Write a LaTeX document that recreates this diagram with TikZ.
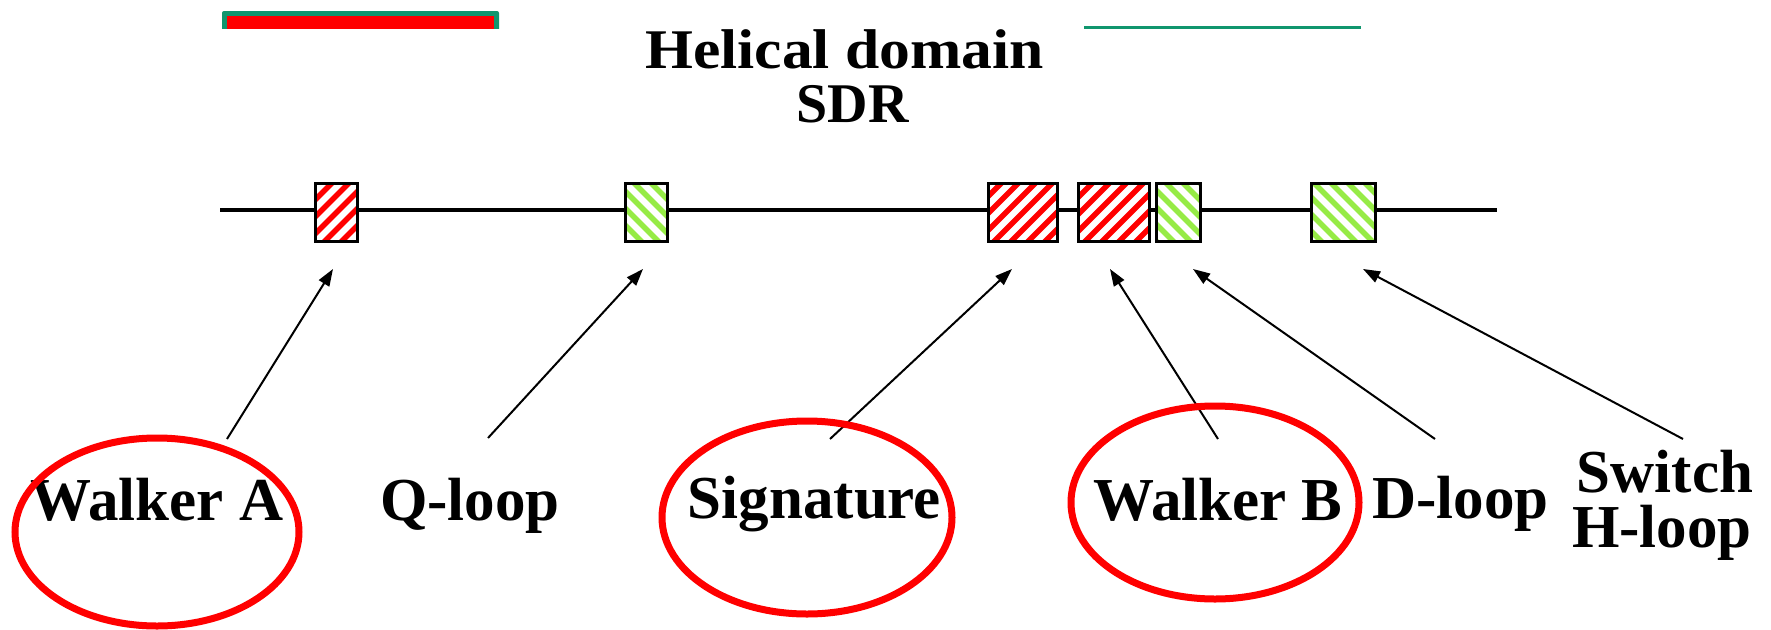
\documentclass[tikz,border=0pt]{standalone}
\usepackage{fontspec}
\setmainfont{Liberation Serif}
\usepackage{graphicx}
\usetikzlibrary{arrows.meta,shapes.geometric}
\definecolor{hred}{RGB}{255,0,0}
\definecolor{hgreen}{RGB}{150,235,70}
\definecolor{bargreen}{RGB}{16,150,110}
\tikzset{
  lbl/.style={font=\bfseries\fontsize{61}{55}\selectfont, anchor=base, inner sep=0pt},
  ttl/.style={font=\bfseries\fontsize{56}{54}\selectfont, anchor=base, inner sep=0pt},
  hatchbox/.style={draw=black, fill=white, line width=3pt, inner sep=0pt, minimum height=58pt},
  redhatch/.style={hatchbox, path picture={
      \foreach \i in {-8,...,8}{
        \draw[hred, line width=5.5pt] ([shift={(\i*17pt-60pt,-60pt)}]path picture bounding box.center) -- ++(120pt,120pt);}}},
  greenhatch/.style={hatchbox, path picture={
      \foreach \i in {-8,...,8}{
        \draw[hgreen, line width=5.5pt] ([shift={(\i*17pt-60pt,60pt)}]path picture bounding box.center) -- ++(120pt,-120pt);}}},
  arr/.style={line width=2pt, -{Triangle[length=17pt,width=12pt]}},
  ring/.style={ellipse, draw=hred, line width=7pt, inner sep=0pt},
  backbone/.style={line width=3.5pt}
}
\begin{document}
\begin{tikzpicture}[x=1pt,y=-1pt]
\clip (0,0) rectangle (1771,629);
\useasboundingbox (0,0) rectangle (1771,629);
% top bars
\fill[bargreen, rounded corners=2pt] (222,11) rectangle (499,32);
\fill[hred] (227,16) rectangle (494,29);
\fill[white] (215,29) rectangle (505,40);
\fill[bargreen] (1084,26) rectangle (1361,29);
% title
\node[ttl] (title1) at (844.5,68) {\scalebox{1.1}[1]{Helical domain}};
\node[ttl] (title2) at (852.5,122) {SDR};
% backbone
\coordinate (L0) at (220,210);
\coordinate (L1) at (1497,210);
\draw[backbone] (L0) -- (L1);
% boxes
\node[redhatch, minimum width=42pt] (b1) at (336.5,212.5) {};
\node[greenhatch, minimum width=42pt] (b2) at (646.5,212.5) {};
\node[redhatch, minimum width=69pt] (b3) at (1023,212.5) {};
\node[redhatch, minimum width=71pt] (b4) at (1114,212.5) {};
\node[greenhatch, minimum width=44pt] (b5) at (1178.5,212.5) {};
\node[greenhatch, minimum width=64pt] (b6) at (1343.5,212.5) {};
% labels
\node[lbl] (wa) at (157,520) {Walker A};
\node[lbl] (ql) at (470,520) {Q-loop};
\node[lbl] (sg) at (814.5,518) {Signature};
\node[lbl] (wb) at (1218,520) {Walker B};
\node[lbl] (dl) at (1460.5,518) {D-loop};
\node[lbl] (sw) at (1665,492) {Switch};
\node[lbl] (hl) at (1662,547) {H-loop};
% arrows
\coordinate (sA) at (227,439);  \coordinate (tA) at (333,269);
\coordinate (sQ) at (488,438);  \coordinate (tQ) at (643,269);
\coordinate (sS) at (830,439);  \coordinate (tS) at (1012,269);
\coordinate (sWB) at (1218,439); \coordinate (tWB) at (1110,269);
\coordinate (sD) at (1435,439); \coordinate (tD) at (1193,269);
\coordinate (sH) at (1683,439); \coordinate (tH) at (1363,269);
\draw[arr] (sA) -- (tA);
\draw[arr] (sQ) -- (tQ);
\draw[arr] (sS) -- (tS);
\draw[arr] (sWB) -- (tWB);
\draw[arr] (sD) -- (tD);
\draw[arr] (sH) -- (tH);
% red rings
\node[ring, minimum width=284pt, minimum height=188pt] (ringA) at (157,532) {};
\node[ring, minimum width=290pt, minimum height=193pt] (ringS) at (807,517.5) {};
\node[ring, minimum width=288pt, minimum height=193pt] (ringB) at (1215,502.5) {};
\end{tikzpicture}
\end{document}
